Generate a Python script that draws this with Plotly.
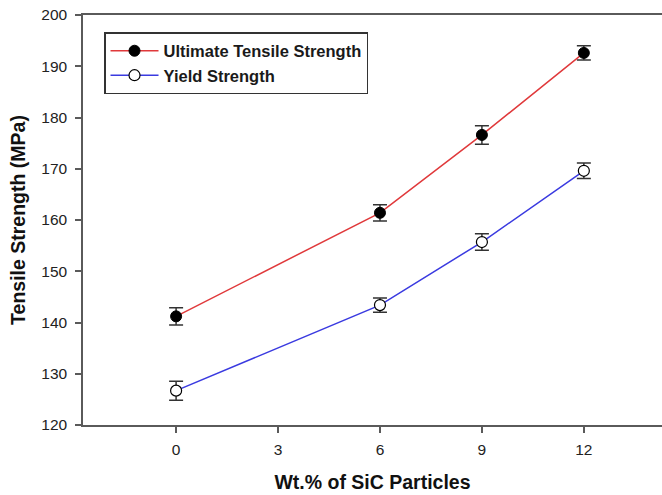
import plotly.graph_objects as go

# SiC content (wt.%) and measured strengths (MPa)
sic_wt = [0, 6, 9, 12]
uts = [141.2, 161.4, 176.6, 192.6]
uts_err = [1.7, 1.6, 1.8, 1.4]
ys = [126.7, 143.4, 155.7, 169.6]
ys_err = [1.85, 1.4, 1.6, 1.5]

x_ticks = [0, 3, 6, 9, 12]
y_ticks = [120, 130, 140, 150, 160, 170, 180, 190, 200]

FONT = "Liberation Sans, Arial, sans-serif"
AXIS_COL = "#5a5a5a"

fig = go.Figure()

fig.add_trace(go.Scatter(
    x=sic_wt, y=uts, mode="lines+markers", name="Ultimate Tensile Strength",
    line=dict(color="#e0393b", width=1.5),
    marker=dict(symbol="circle", size=11, color="black",
                line=dict(color="black", width=1)),
    error_y=dict(type="data", array=uts_err, visible=True,
                 color="#333333", thickness=1.5, width=7),
))

fig.add_trace(go.Scatter(
    x=sic_wt, y=ys, mode="lines+markers", name="Yield Strength",
    line=dict(color="#3a3ae0", width=1.5),
    marker=dict(symbol="circle", size=11, color="white",
                line=dict(color="black", width=1.2)),
    error_y=dict(type="data", array=ys_err, visible=True,
                 color="#333333", thickness=1.5, width=7),
))

fig.update_layout(
    width=662, height=495,
    margin=dict(l=83, r=0, t=15, b=70),
    paper_bgcolor="white", plot_bgcolor="white",
    font=dict(family=FONT, size=15.5, color="#222222"),
    showlegend=True,
    legend=dict(
        x=0.0363, y=0.9585, xanchor="left", yanchor="top",
        bordercolor="#333333", borderwidth=1.5, bgcolor="white",
        font=dict(family=FONT, size=16.5, color="#1a1a1a", weight="bold"),
        tracegroupgap=0, itemwidth=48,
    ),
    xaxis=dict(
        range=[-2.74, 14.3], tickvals=x_ticks,
        showline=True, linecolor=AXIS_COL, linewidth=1.5, mirror=True,
        ticks="outside", ticklen=6, tickcolor=AXIS_COL, tickwidth=1.5,
        ticklabelstandoff=4,
        showgrid=False, zeroline=False,
        tickfont=dict(family=FONT, size=15.5, color="#222222"),
        title=dict(text="<b>Wt.% of SiC Particles</b>", standoff=18,
                   font=dict(family=FONT, size=19.5, color="#111111")),
    ),
    yaxis=dict(
        range=[120, 200], tickvals=y_ticks,
        showline=True, linecolor=AXIS_COL, linewidth=1.5,
        ticks="outside", ticklen=6, tickcolor=AXIS_COL, tickwidth=1.5,
        ticklabelstandoff=5,
        showgrid=False, zeroline=False,
        tickfont=dict(family=FONT, size=15.5, color="#222222"),
        title=dict(text="<b>Tensile Strength (MPa)</b>", standoff=10,
                   font=dict(family=FONT, size=19.5, color="#111111")),
    ),
)

fig.write_html("out.html")
